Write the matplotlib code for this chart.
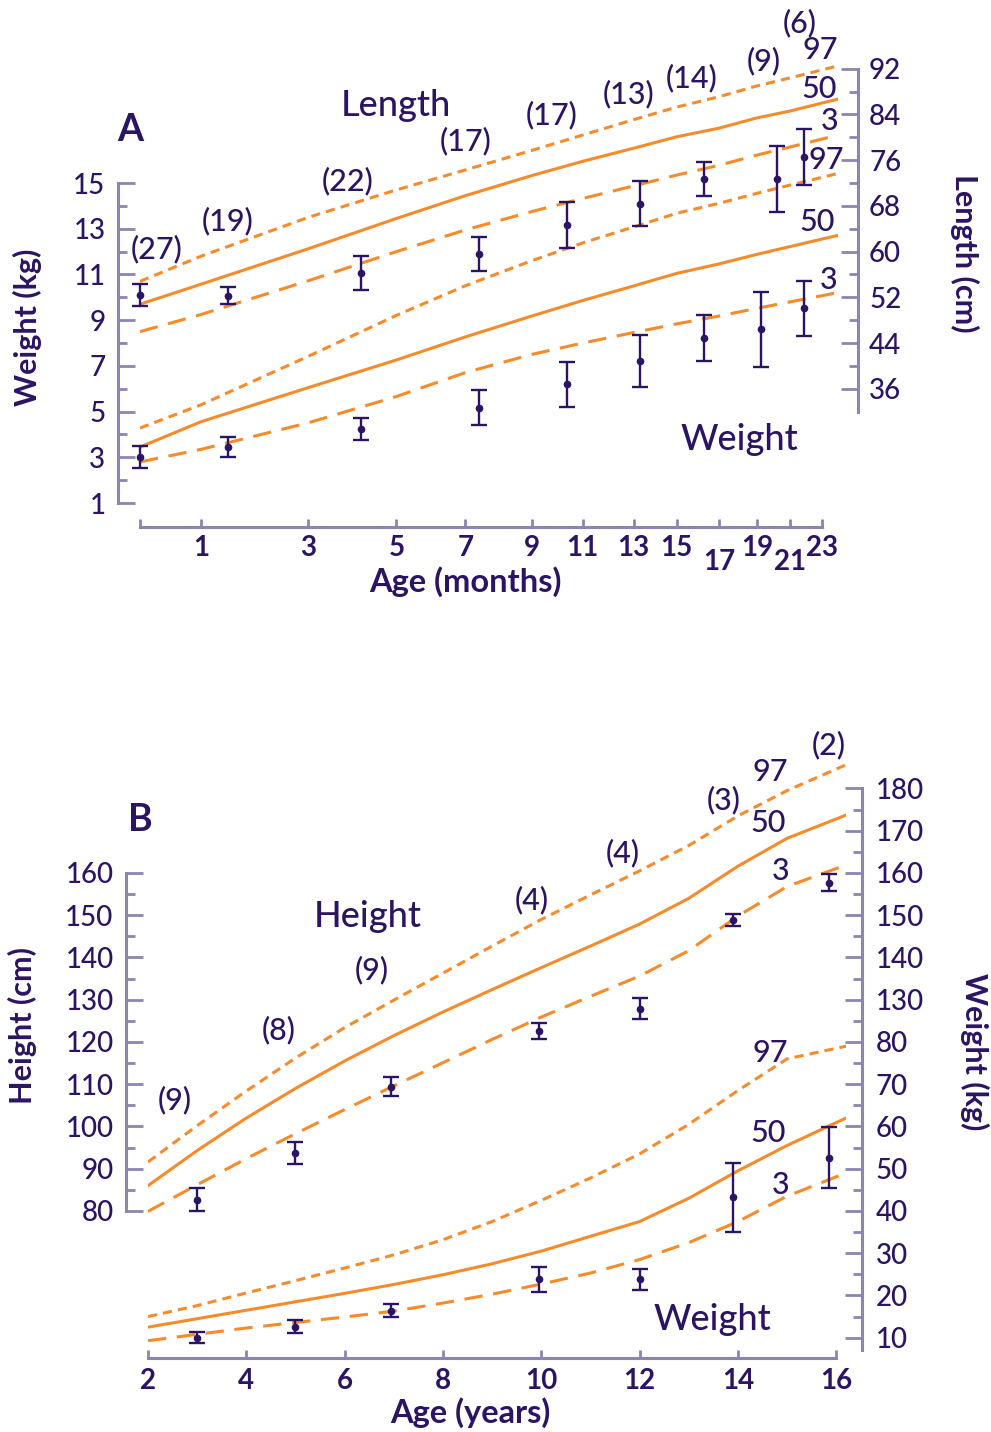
import numpy as np
import matplotlib
matplotlib.use('Agg')
import matplotlib.pyplot as plt
from matplotlib.ticker import FixedLocator, FuncFormatter

plt.rcParams['font.family'] = ['Lato', 'DejaVu Sans']
plt.rcParams['font.weight'] = 'medium'

ORANGE = '#F68B2C'
INK = '#2B1463'
AXIS = '#8C85B1'

W, H = 991, 1432

# ---- panel A: 0-24 months ----
AGE_A = [0, 1, 3, 5, 7, 9, 11, 13, 15, 17, 19, 21, 23, 24]
LEN_97 = [54.8, 59.2, 66.0, 70.8, 74.3, 77.7, 80.4, 83.1, 85.3, 87.1, 89.0, 90.4, 91.8, 92.5]
LEN_50 = [50.8, 54.3, 60.5, 65.8, 69.8, 73.3, 75.8, 78.1, 80.1, 81.6, 83.4, 84.6, 86.0, 86.7]
LEN_3 = [46.0, 49.0, 54.9, 60.0, 63.8, 67.0, 69.3, 71.5, 73.4, 75.1, 76.9, 78.3, 79.7, 80.4]
WT_97 = [4.28, 5.30, 7.42, 9.21, 10.51, 11.60, 12.38, 13.08, 13.68, 14.11, 14.55, 14.91, 15.25, 15.42]
WT_50 = [3.45, 4.56, 6.05, 7.26, 8.27, 9.18, 9.86, 10.50, 11.05, 11.46, 11.88, 12.22, 12.55, 12.71]
WT_3 = [2.80, 3.35, 4.51, 5.66, 6.71, 7.50, 8.00, 8.46, 8.84, 9.18, 9.52, 9.80, 10.07, 10.21]

WT_PT_AGE = [0, 1.5, 4.2, 7.4, 10.4, 13.3, 16.3, 19.25, 21.9]
WT_PT = [3.0, 3.46, 4.25, 5.17, 6.19, 7.23, 8.21, 8.6, 9.52]
WT_ERR = [0.48, 0.44, 0.48, 0.76, 1.0, 1.14, 1.0, 1.65, 1.2]
LEN_PT_AGE = [0, 1.5, 4.2, 7.4, 10.4, 13.3, 16.3, 20.2, 21.9]
LEN_PT = [52.4, 52.3, 56.3, 59.6, 64.6, 68.4, 72.7, 72.7, 76.5]
LEN_ERR = [2.0, 1.5, 3.0, 3.0, 4.0, 4.0, 3.0, 5.8, 4.9]

N_A = ['(27)', '(19)', '(22)', '(17)', '(17)', '(13)', '(14)', '(9)', '(6)']
N_A_AGE = [0.28, 1.5, 3.9, 7.0, 9.8, 12.8, 15.7, 19.4, 21.6]
N_A_LEN = [60.4, 65.3, 72.4, 79.4, 83.9, 87.6, 90.4, 93.4, 100.1]

MONTH_TICKS = [0, 1, 3, 5, 7, 9, 11, 13, 15, 17, 19, 21, 23]
MONTH_LOW = [17, 21]
# the month axis is stretched unevenly in the original: spacing of each tick
MONTH_GRID = [0, 1, 3, 5, 7, 9, 11, 13, 15, 17, 19, 21, 23, 24]
MONTH_SPAN = [0, 61, 168, 256, 325, 391, 442, 493, 536, 578, 616, 649, 681, 697]

# ---- panel B: 2-16 years ----
AGE_B = [2, 3, 4, 5, 6, 7, 8, 9, 10, 11, 12, 13, 14, 15, 16.2]
HT_97 = [91.6, 100.2, 108.4, 116.2, 123.4, 129.9, 136.3, 142.7, 149.0, 154.8, 160.5, 166.5, 173.5, 179.5, 185.6]
HT_50 = [86.0, 94.3, 102.0, 109.0, 115.5, 121.5, 127.1, 132.4, 137.6, 142.7, 147.9, 154.0, 161.6, 168.2, 173.7]
HT_3 = [79.9, 86.2, 92.4, 98.3, 104.0, 109.6, 115.1, 120.6, 125.9, 130.8, 135.6, 141.6, 149.8, 156.8, 161.9]
WB_97 = [15.0, 17.6, 20.6, 23.5, 26.5, 29.6, 33.2, 37.5, 42.5, 47.8, 53.5, 60.5, 68.5, 76.0, 79.0]
WB_50 = [12.5, 14.5, 16.5, 18.5, 20.5, 22.6, 24.9, 27.5, 30.5, 34.0, 37.5, 43.0, 49.5, 55.5, 62.0]
WB_3 = [9.3, 10.8, 12.3, 13.6, 14.9, 16.3, 18.2, 20.3, 22.7, 25.3, 28.5, 32.5, 37.5, 43.5, 49.0]

PT_AGE_B = [3.0, 5.0, 6.95, 9.95, 12.0, 13.9, 15.85]
HT_PT = [82.7, 93.8, 109.4, 122.6, 127.9, 148.9, 157.7]
HT_ERR = [2.8, 2.6, 2.3, 2.0, 2.4, 1.4, 2.0]
WB_PT = [10.0, 12.6, 16.4, 23.8, 23.8, 43.2, 52.6]
WB_ERR = [1.3, 1.6, 1.5, 3.0, 2.4, 8.2, 7.2]

N_B = ['(9)', '(8)', '(9)', '(4)', '(4)', '(3)', '(2)']
N_B_AGE = [2.54, 4.65, 6.56, 9.8, 11.66, 13.71, 15.86]
N_B_HT = [106.3, 122.8, 137.0, 153.6, 164.7, 177.3, 190.3]

# weight shares the height axis in B, shifted by 40
W_SHIFT = 40

SHORT = (0, (3, 2))
LONG = (0, (6, 3.5))
LW = 2.2
NUM_SIZE = 22


def fx(px):
    return px / W


def fy(py):
    return 1 - py / H


def px2pt(px):
    return px * 0.72


def month_fwd(v):
    return np.interp(v, MONTH_GRID, MONTH_SPAN)


def month_inv(v):
    return np.interp(v, MONTH_SPAN, MONTH_GRID)


def style_axis(a, keep):
    a.tick_params(axis='y', which='major', direction='in', length=12, width=2,
                  color=AXIS, labelcolor=INK, labelsize=20)
    a.tick_params(axis='y', which='minor', direction='in', length=6.5, width=2,
                  color=AXIS)
    for s in a.spines.values():
        s.set_color(AXIS)
        s.set_linewidth(2.2)
    for s in ['top', 'left', 'right', 'bottom']:
        if s not in keep:
            a.spines[s].set_visible(False)


def curves(a, x, y97, y50, y3, shift=0):
    a.plot(x, np.array(y97) + shift, color=ORANGE, lw=LW, ls=SHORT, zorder=2)
    a.plot(x, np.array(y50) + shift, color=ORANGE, lw=LW, ls='-', zorder=2)
    a.plot(x, np.array(y3) + shift, color=ORANGE, lw=LW, ls=LONG, zorder=2)


def points(a, x, y, err):
    c = a.errorbar(x, y, yerr=err, fmt='o', ms=4.5, color=INK, ecolor=INK,
                   elinewidth=1.7, capsize=6, capthick=1.7, zorder=4)
    for art in c.get_children():
        art.set_clip_on(False)


fig = plt.figure(figsize=(W / 100, H / 100), dpi=100)

# ================= panel A =================
axA = fig.add_axes([fx(140), fy(527), (838 - 140) / W, (527 - 45) / H])
axA.patch.set_alpha(0)
axA.set_xscale('function', functions=(month_fwd, month_inv))
axA.set_xlim(0, 24)
w_lo, w_hi = -0.048, 21.04
axA.set_ylim(w_lo, w_hi)
axA2 = axA.twinx()
axA2.set_ylim(4 * w_lo + 12, 4 * w_hi + 12)

style_axis(axA, ['left', 'bottom'])
style_axis(axA2, ['right'])
axA.spines['left'].set_position(('outward', px2pt(22)))
axA.spines['left'].set_bounds(1, 15)
axA2.spines['right'].set_position(('outward', px2pt(20)))
axA2.spines['right'].set_bounds(32, 92)
axA.spines['bottom'].set_bounds(0, 23)

axA.yaxis.set_major_locator(FixedLocator(np.arange(1, 16, 2)))
axA.yaxis.set_minor_locator(FixedLocator(np.arange(2, 15, 2)))
axA.tick_params(axis='y', pad=9)
axA2.yaxis.set_major_locator(FixedLocator(np.arange(36, 93, 8)))
axA2.yaxis.set_minor_locator(FixedLocator(np.arange(40, 89, 8)))
axA2.tick_params(axis='y', pad=8)

axA.xaxis.remove_overlapping_locs = False
axA.set_xticks(MONTH_TICKS)
axA.set_xticklabels(['' if (m == 0 or m in MONTH_LOW) else str(m) for m in MONTH_TICKS])
axA.set_xticks(MONTH_LOW, minor=True)
axA.set_xticklabels([str(m) for m in MONTH_LOW], minor=True)
axA.tick_params(axis='x', which='major', direction='in', length=6, width=2,
                color=AXIS, labelcolor=INK, labelsize=20, pad=6)
axA.tick_params(axis='x', which='minor', length=0, labelcolor=INK, labelsize=20, pad=16)
for lab in axA.get_xticklabels() + axA.get_xticklabels(minor=True):
    lab.set_fontweight('bold')

curves(axA2, AGE_A, LEN_97, LEN_50, LEN_3)
curves(axA, AGE_A, WT_97, WT_50, WT_3)
points(axA, WT_PT_AGE, WT_PT, WT_ERR)
points(axA2, LEN_PT_AGE, LEN_PT, LEN_ERR)

for t, xa, ya in zip(N_A, N_A_AGE, N_A_LEN):
    axA2.text(xa, ya, t, color=INK, fontsize=NUM_SIZE, ha='center', va='center')

for t, xa, ya in [('97', 22.9, 95.2), ('50', 22.8, 88.5), ('3', 23.5, 82.9)]:
    axA2.text(xa, ya, t, color=INK, fontsize=NUM_SIZE, ha='center', va='center')
for t, xa, ya in [('97', 23.25, 16.0), ('50', 22.7, 13.3), ('3', 23.4, 10.76)]:
    axA.text(xa, ya, t, color=INK, fontsize=NUM_SIZE, ha='center', va='center')
axA2.text(5.0, 85.5, 'Length', color=INK, fontsize=26, ha='center', va='center')
axA.text(18.1, 3.76, 'Weight', color=INK, fontsize=26, ha='center', va='center')

fig.text(fx(130), fy(130), 'A', color=INK, fontsize=27, fontweight='bold', ha='center', va='center')
fig.text(fx(27), fy(327), 'Weight (kg)', color=INK, fontsize=22, fontweight='bold',
         rotation=90, ha='center', va='center')
fig.text(fx(965), fy(253), 'Length (cm)', color=INK, fontsize=22, fontweight='bold',
         rotation=270, ha='center', va='center')
fig.text(fx(465), fy(582), 'Age (months)', color=INK, fontsize=23.5, fontweight='bold',
         ha='center', va='center')

# ================= panel B =================
axB = fig.add_axes([fx(148), fy(1358), (846 - 148) / W, (1358 - 735) / H])
axB.patch.set_alpha(0)
axB.set_xlim(2, 16.2)
h_lo, h_hi = 45.2, 192.66
axB.set_ylim(h_lo, h_hi)
axB2 = axB.twinx()
axB2.set_ylim(h_lo, h_hi)

style_axis(axB, ['left', 'bottom'])
style_axis(axB2, ['right'])
axB.spines['left'].set_position(('outward', px2pt(22)))
axB.spines['left'].set_bounds(80, 160)
axB2.spines['right'].set_position(('outward', px2pt(16)))
axB2.spines['right'].set_bounds(47, 180)
axB.spines['bottom'].set_bounds(2, 16)

axB.yaxis.set_major_locator(FixedLocator(np.arange(80, 161, 10)))
axB.yaxis.set_minor_locator(FixedLocator(np.arange(85, 160, 10)))
axB.tick_params(axis='y', pad=9)
axB2.yaxis.set_major_locator(FixedLocator(np.arange(50, 181, 10)))
axB2.yaxis.set_minor_locator(FixedLocator(np.arange(55, 180, 10)))
axB2.yaxis.set_major_formatter(FuncFormatter(
    lambda v, p: '%d' % v if v >= 125 else '%d' % (v - W_SHIFT)))
axB2.tick_params(axis='y', pad=10)

axB.set_xticks(np.arange(2, 17, 2))
axB.tick_params(axis='x', which='major', direction='in', length=6, width=2,
                color=AXIS, labelcolor=INK, labelsize=20, pad=7)
for lab in axB.get_xticklabels():
    lab.set_fontweight('bold')

curves(axB, AGE_B, HT_97, HT_50, HT_3)
curves(axB, AGE_B, WB_97, WB_50, WB_3, shift=W_SHIFT)
points(axB, PT_AGE_B, HT_PT, HT_ERR)
points(axB, PT_AGE_B, np.array(WB_PT) + W_SHIFT, WB_ERR)

for t, xa, ya in zip(N_B, N_B_AGE, N_B_HT):
    axB.text(xa, ya, t, color=INK, fontsize=NUM_SIZE, ha='center', va='center')

for t, xa, ya in [('97', 14.66, 183.9), ('50', 14.62, 171.8), ('3', 14.86, 160.5),
                  ('97', 14.66, 117.4), ('50', 14.62, 98.5), ('3', 14.86, 86.2)]:
    axB.text(xa, ya, t, color=INK, fontsize=NUM_SIZE, ha='center', va='center')
axB.text(6.48, 149.6, 'Height', color=INK, fontsize=26, ha='center', va='center')
axB.text(13.48, 54.2, 'Weight', color=INK, fontsize=26, ha='center', va='center')

fig.text(fx(140), fy(820), 'B', color=INK, fontsize=27, fontweight='bold', ha='center', va='center')
fig.text(fx(22), fy(1025), 'Height (cm)', color=INK, fontsize=22, fontweight='bold',
         rotation=90, ha='center', va='center')
fig.text(fx(975), fy(1052), 'Weight (kg)', color=INK, fontsize=22, fontweight='bold',
         rotation=270, ha='center', va='center')
fig.text(fx(470), fy(1413), 'Age (years)', color=INK, fontsize=23.5, fontweight='bold',
         ha='center', va='center')

fig.savefig('out.png', dpi=100)
